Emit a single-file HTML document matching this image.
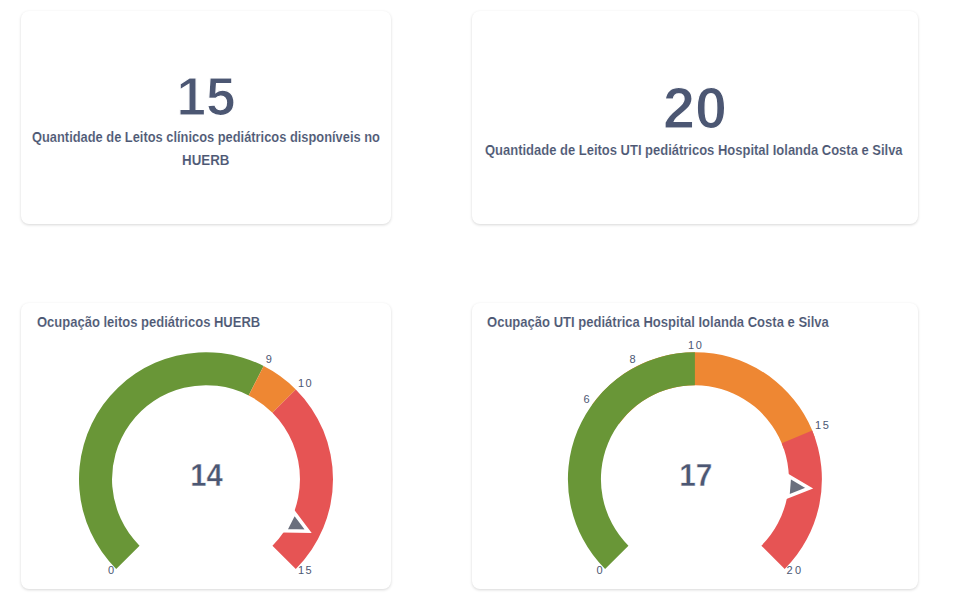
<!DOCTYPE html>
<html><head><meta charset="utf-8">
<style>
html,body{margin:0;padding:0;background:#fff;width:958px;height:602px;overflow:hidden;}
body{position:relative;font-family:"Liberation Sans",sans-serif;color:#4c5773;}
.card{position:absolute;background:#fff;border-radius:8px;box-shadow:0 1px 3px rgba(0,0,0,0.16);}
.t{position:absolute;transform-origin:0 0;white-space:nowrap;font-weight:bold;line-height:1;-webkit-text-stroke:0.12px #fff;}
.big{position:absolute;white-space:nowrap;font-weight:bold;line-height:1;-webkit-text-stroke:1.2px #fff;}
svg{position:absolute;left:0;top:0;}
.lbl{font-family:"Liberation Sans",sans-serif;font-size:11px;fill:#4c5773;}
.ctr{font-family:"Liberation Sans",sans-serif;font-size:30.6px;font-weight:bold;fill:#4c5773;stroke:#fff;stroke-width:0.4px;}
</style></head><body>
<div class="card" style="left:21px;top:11px;width:370px;height:213px"></div>
<div class="card" style="left:472px;top:11px;width:446px;height:213px"></div>
<div class="card" style="left:21px;top:303px;width:370px;height:286px"></div>
<div class="card" style="left:472px;top:303px;width:446px;height:286px"></div>

<div class="big" id="n15" style="left:0;width:412px;text-align:center;top:70px;font-size:53px">15</div>
<div class="big" id="n20" style="left:472px;width:446px;text-align:center;top:80px;font-size:57.5px">20</div>

<div class="t" id="l1a" style="left:31.98px;top:130px;font-size:14px;transform:scaleX(0.9183)">Quantidade de Leitos clínicos pediátricos disponíveis no</div>
<div class="t" id="l1b" style="left:182.15px;top:153px;font-size:14px;transform:scaleX(0.9521)">HUERB</div>
<div class="t" id="l2" style="left:485.37px;top:143px;font-size:14px;transform:scaleX(0.9271)">Quantidade de Leitos UTI pediátricos Hospital Iolanda Costa e Silva</div>
<div class="t" id="h1" style="left:36.67px;top:315px;font-size:14px;transform:scaleX(0.9285)">Ocupação leitos pediátricos HUERB</div>
<div class="t" id="h2" style="left:487.47px;top:315px;font-size:14px;transform:scaleX(0.9309)">Ocupação UTI pediátrica Hospital Iolanda Costa e Silva</div>

<svg width="958" height="602" viewBox="0 0 958 602">
<path d="M116.20,569.00 A127.0,127.0 0 0 1 263.66,366.04 L248.67,395.46 A93.98,93.98 0 0 0 139.55,545.65 Z" fill="#699637"/>
<path d="M263.66,366.04 A127.0,127.0 0 0 1 295.80,389.40 L272.45,412.75 A93.98,93.98 0 0 0 248.67,395.46 Z" fill="#EE8733"/>
<path d="M295.80,389.40 A127.0,127.0 0 0 1 295.80,569.00 L272.45,545.65 A93.98,93.98 0 0 0 272.45,412.75 Z" fill="#E65454"/>
<path d="M-10.07 0 L0 -20.64 L10.07 0 Z" transform="translate(206,479.2) rotate(117.000) translate(0,-93.98)" fill="#6A6F7D" stroke="#fff" stroke-width="3.53"/>
<path d="M592.15,404.55 A127.0,127.0 0 0 1 814.89,437.59 L783.69,448.41 A93.98,93.98 0 0 0 618.87,423.96 Z" fill="#EE8733"/>
<path d="M605.10,569.00 A127.0,127.0 0 0 1 694.90,352.20 L694.90,385.22 A93.98,93.98 0 0 0 628.45,545.65 Z" fill="#699637"/>
<path d="M812.23,430.60 A127.0,127.0 0 0 1 784.70,569.00 L761.35,545.65 A93.98,93.98 0 0 0 781.73,443.24 Z" fill="#E65454"/>
<path d="M-10.07 0 L0 -20.64 L10.07 0 Z" transform="translate(694.9,479.2) rotate(94.500) translate(0,-93.98)" fill="#6A6F7D" stroke="#fff" stroke-width="3.53"/>
<text class="ctr" x="206.4" y="485.5" text-anchor="middle" textLength="32.5" lengthAdjust="spacingAndGlyphs">14</text>
<text class="ctr" x="695.8" y="485.5" text-anchor="middle" textLength="33.2" lengthAdjust="spacingAndGlyphs">17</text>
<text class="lbl" x="114" y="574" text-anchor="end">0</text>
<text class="lbl" x="265.7" y="363" text-anchor="start">9</text>
<text class="lbl" x="298" y="387" text-anchor="start" style="letter-spacing:1.3px">10</text>
<text class="lbl" x="298" y="574" text-anchor="start" style="letter-spacing:1.4px">15</text>
<text class="lbl" x="695.8" y="349" text-anchor="middle" style="letter-spacing:1.6px">10</text>
<text class="lbl" x="635.7" y="363" text-anchor="end">8</text>
<text class="lbl" x="589.5" y="403" text-anchor="end">6</text>
<text class="lbl" x="815" y="429.4" text-anchor="start" style="letter-spacing:1.6px">15</text>
<text class="lbl" x="602.7" y="574" text-anchor="end">0</text>
<text class="lbl" x="786.6" y="574" text-anchor="start" style="letter-spacing:2.2px">20</text>
</svg>
</body></html>
